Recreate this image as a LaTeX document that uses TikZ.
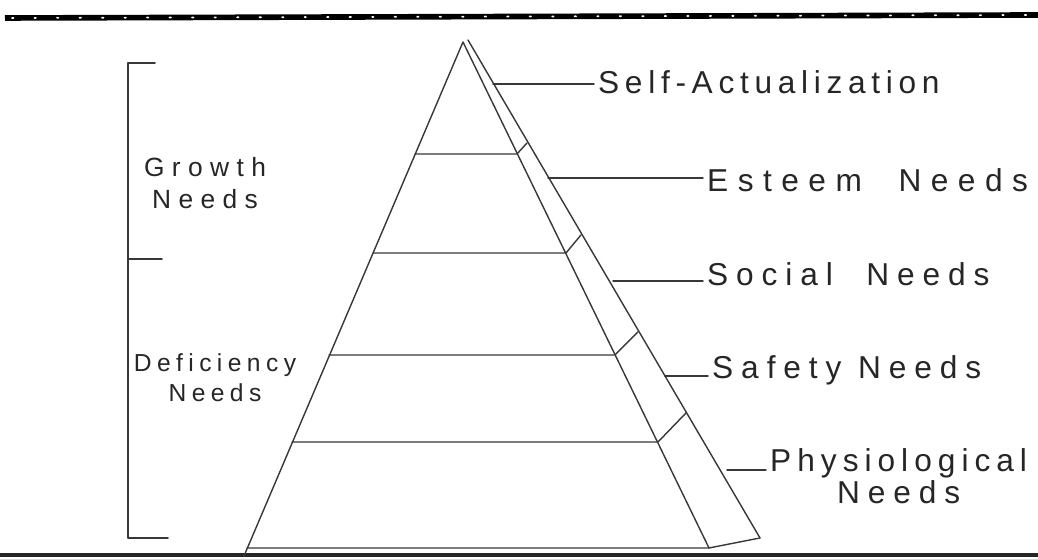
\documentclass[tikz,border=0pt]{standalone}
\usepackage{fontspec}
\newfontfamily\handfont{Liberation Sans}
\usetikzlibrary{calc,positioning}
\tikzset{
  pen/.style={draw=black!78,line width=0.4pt},
  lbl/.style={anchor=west,inner sep=1pt,text=black!85,
              font=\handfont\addfontfeature{LetterSpace=25}\fontsize{9}{10}\selectfont},
  side/.style={inner sep=1pt,align=center,text=black!85,
               font=\handfont\addfontfeature{LetterSpace=22}\fontsize{7}{8.5}\selectfont},
  every picture/.style={line cap=round,line join=round}}

\begin{document}
\begin{tikzpicture}[x=0.01cm,y=-0.01cm]
  \useasboundingbox (0,0) rectangle (1038,559);
  % page rules of the scan
  \draw[line width=1.6pt,line cap=butt] (5,18) -- (1038,15);
  \draw[white,line width=0.5pt,dash pattern=on 0.4pt off 6pt] (12,18) -- (1038,15);
  \draw[black!85,line width=0.9pt,line cap=butt] (0,555) -- (1038,555);
  % pyramid
  \coordinate (apex) at (463,42);\coordinate (bl) at (244,556);\coordinate (br) at (709,548);
  \coordinate (otop) at (468,40);\coordinate (obr) at (760,538);
  \draw[pen] (bl) -- (apex) -- (br) (otop) -- (obr);
  \foreach \n/\y/\xl/\xr/\yo/\xo in {1/154/415/517/143/527,2/253/373/566/235/581,
      3/355/329/615/332/638,4/442/292/658/413/686,5/548/247/709/538/760}{
    \coordinate (l\n) at (\xl,\y);\coordinate (r\n) at (\xr,\y);\coordinate (o\n) at (\xo,\yo);
    \draw[pen] (l\n) -- (r\n) -- (o\n);}
  % level labels
  \node[lbl,font=\handfont\addfontfeature{LetterSpace=18}\fontsize{9}{10}\selectfont] (sa) at (594,82){Self-Actualization};
  \node[lbl,font=\handfont\addfontfeature{LetterSpace=30}\fontsize{9}{10}\selectfont] (es) at (703,180){Esteem\ \ Needs};
  \node[lbl] (so) at (703,274){Social\ \ Needs};
  \node[lbl] (sf) at (708,370){Safety Needs};
  \node[lbl,font=\handfont\addfontfeature{LetterSpace=19}\fontsize{9}{10}\selectfont] (ph) at (766,463){Physiological};
  \node[lbl,anchor=north] (phn) [below=-1.5pt of ph] {Needs};
  \coordinate (c1) at (493,84);\coordinate (c2) at (548,178);\coordinate (c3) at (613,281);
  \coordinate (c4) at (665,376);\coordinate (c5) at (727,470);
  \draw[pen] (c1) -- (c1 -| sa.west) (c2) -- (c2 -| es.west) (c3) -- (c3 -| so.west)
    (c4) -- (c4 -| sf.west) (c5) -- (c5 -| ph.west);
  % bracket on the left
  \coordinate (k1) at (128,63);\coordinate (k2) at (128,259);\coordinate (k3) at (128,538);
  \draw[pen,line width=0.55pt] ($(k1)+(27,0)$) -- (k1) -- (k3) -- ($(k3)+(40,0)$) (k2) -- ($(k2)+(34,0)$);
  \node[side,font=\handfont\addfontfeature{LetterSpace=28}\fontsize{7.5}{9}\selectfont] (gr) at (205,183){Growth\\Needs};
  \node[side] (df) at (215,378){Deficiency\\Needs};
\end{tikzpicture}
\end{document}
